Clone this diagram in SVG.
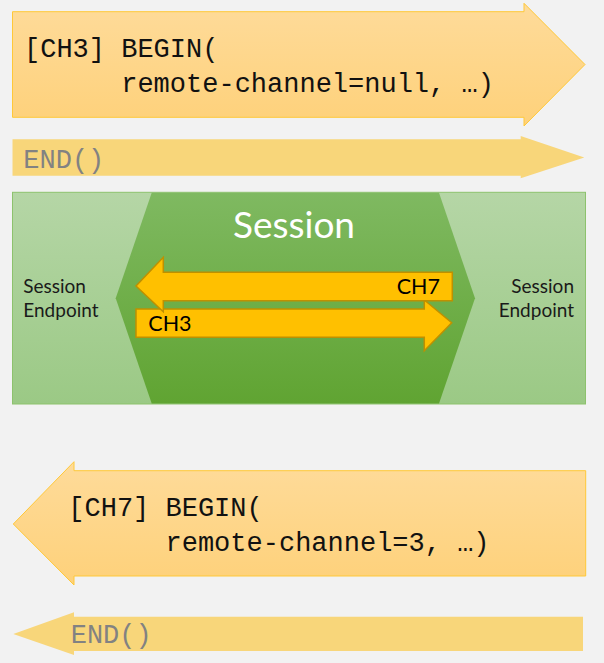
<svg xmlns="http://www.w3.org/2000/svg" width="604" height="663" viewBox="0 0 604 663">
<defs>
<linearGradient id="gBegin" x1="0" y1="0" x2="0" y2="1"><stop offset="0" stop-color="#FEDB9A"/><stop offset="1" stop-color="#FED17A"/></linearGradient>
<linearGradient id="gLight" x1="0" y1="0" x2="0" y2="1"><stop offset="0" stop-color="#B5D6A6"/><stop offset="1" stop-color="#9BC985"/></linearGradient>
<linearGradient id="gHex" x1="0" y1="0" x2="0" y2="1"><stop offset="0" stop-color="#7FB961"/><stop offset="1" stop-color="#60A432"/></linearGradient>
<style>
.begin{fill:url(#gBegin);stroke:#FFC838;stroke-width:1}
.end{fill:#F8D67A;stroke:none}
.mono{font-family:"Liberation Mono","DejaVu Sans Mono",monospace;font-size:27px;fill:#111}
.endt{font-family:"Liberation Mono","DejaVu Sans Mono",monospace;font-size:27px;fill:#828282}
.light{fill:url(#gLight);stroke:#8DC26D;stroke-width:1}
.hex{fill:url(#gHex);stroke:none}
.ep{font-family:Lato,"Open Sans",sans-serif;font-size:19px;fill:#1a1a1a}
.title{font-family:Lato,"Open Sans",sans-serif;font-size:37px;fill:#FFFFFF}
.ch{fill:#FFC000;stroke:#BF9000;stroke-width:1.5}
.cht{font-family:Lato,"Open Sans",sans-serif;font-size:21.5px;fill:#000}
</style>
</defs>
<rect width="604" height="663" fill="#F2F2F2"/>
<g id="begin-ch3">
<path class="begin" d="M12.5,11.7 H524 V3.3 L585,64.5 L524,126 V117.3 H12.5 Z"/>
<text class="mono" x="24" y="57" xml:space="preserve">[CH3] BEGIN(</text>
<text class="mono" x="24" y="92" xml:space="preserve">      remote-channel=null, …)</text>
</g>
<g id="end-top">
<path class="end" d="M12.5,139.3 H520.7 V136 L584.3,157.5 L520.7,178.3 V175.7 H12.5 Z"/>
<text class="endt" x="23.3" y="168">END()</text>
</g>
<g id="session">
<rect class="light" x="12.5" y="192.3" width="573" height="211.7"/>
<path class="hex" d="M151.7,192.8 H439 L475,298.3 L439,403.5 H151.7 L115.7,298.3 Z"/>
<text class="title" x="294" y="238.3" text-anchor="middle">Session</text>
</g>
<g id="endpoint-left">
<text class="ep" x="23.3" y="293.3">Session</text>
<text class="ep" x="23.3" y="317.3">Endpoint</text>
</g>
<g id="endpoint-right">
<text class="ep" x="574" y="293.3" text-anchor="end">Session</text>
<text class="ep" x="574" y="317.3" text-anchor="end">Endpoint</text>
</g>
<g id="connectors">
<g id="ch3">
<path class="ch" d="M136,309 H424.3 V300 L451.7,322.7 L424.3,350.7 V337.3 H136 Z"/>
<text class="cht" x="148.3" y="330.7">CH3</text>
</g>
<g id="ch7">
<path class="ch" d="M452.3,272.3 H163.3 V257.3 L136,286 L163.3,311.7 V300.7 H452.3 Z"/>
<text class="cht" x="440" y="294" text-anchor="end">CH7</text>
</g>
</g>
<g id="begin-ch7">
<path class="begin" d="M585.7,470.7 H74 V461.7 L13.3,524 L74,585 V576 H585.7 Z"/>
<text class="mono" x="68.3" y="516" xml:space="preserve">[CH7] BEGIN(</text>
<text class="mono" x="68.3" y="551" xml:space="preserve">      remote-channel=3, …)</text>
</g>
<g id="end-bottom">
<path class="end" d="M583,616.7 H74 V612.3 L13.3,634 L74,655 V651 H583 Z"/>
<text class="endt" x="70.7" y="643">END()</text>
</g>
</svg>
